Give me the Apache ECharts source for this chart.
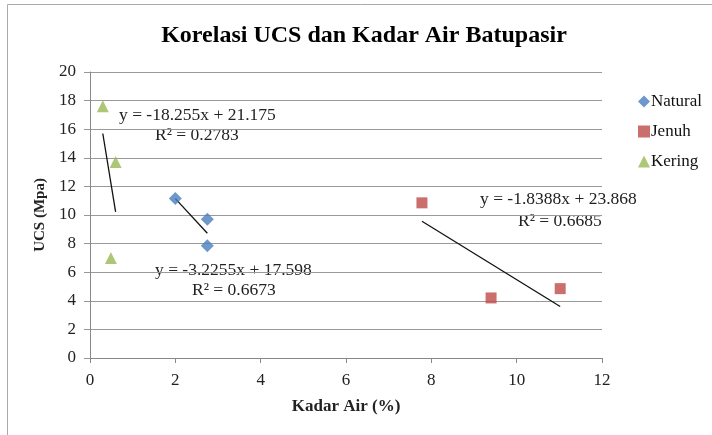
<!DOCTYPE html>
<html><head><meta charset="utf-8">
<script src="https://cdn.jsdelivr.net/npm/echarts@6/dist/echarts.min.js"></script>
<style>html,body{margin:0;padding:0;background:#fff}#c{width:712px;height:435px}</style>
</head><body><div id="c"></div>
<script>
var naturalX = [2.0, 2.75, 2.75];
var naturalY = [11.15, 9.7, 7.85];
var jenuhX = [7.78, 9.4, 11.02];
var jenuhY = [10.85, 4.2, 4.85];
var keringX = [0.3, 0.6, 0.49];
var keringY = [17.6, 13.7, 7.0];
// trendline coefficients (slope, intercept) as printed in the chart
var natTrend = [-3.2255, 17.598];
var jenTrend = [-1.8388, 23.868];
var kerTrend = [-18.255, 21.175];
var natLabel = ['y = -3.2255x + 17.598', 'R² = 0.6673'];
var jenLabel = ['y = -1.8388x + 23.868', 'R² = 0.6685'];
var kerLabel = ['y = -18.255x + 21.175', 'R² = 0.2783'];

function pts(xs, ys){ return xs.map(function(x,i){return [x, ys[i]];}); }
function trend(xs, c){
  var lo = Math.min.apply(null, xs), hi = Math.max.apply(null, xs);
  return [[lo, c[0]*lo + c[1]], [hi, c[0]*hi + c[1]]];
}
var serif = '"Liberation Serif", "Times New Roman", serif';
var blue = '#4a7ebb', red = '#be4b48', green = '#98b954';

var chart = echarts.init(document.getElementById('c'));
function lineSeries(xs, c){
  return {type:'line', data: trend(xs, c), symbol:'none', silent:true,
    lineStyle:{color:'#111', width:1.3}, z:1};
}
function txt(x, y, s){
  return {type:'text', x: x, y: y, style:{text:s, font:'17.5px ' + serif, fill:'#222', textAlign:'left', textVerticalAlign:'middle'}};
}
chart.setOption({
  animation:false,
  backgroundColor:'#fff',
  title:{text:'Korelasi UCS dan Kadar Air Batupasir', left: 359, top: 19, textAlign:'center',
    textStyle:{fontFamily: serif, fontSize: 24, fontWeight:'bold', color:'#000'}},
  grid:{left:90, right:110, top:72, bottom:77},
  legend:{orient:'vertical', left:633, top:88, itemGap:13, itemWidth:12, itemHeight:12,
    data:[{name:'Natural', icon:'diamond'},{name:'Jenuh', icon:'rect'},{name:'Kering', icon:'triangle'}],
    textStyle:{fontFamily: serif, fontSize:17, color:'#111', padding:[0,0,0,-4]}},
  xAxis:{type:'value', min:0, max:12, interval:2, name:'Kadar Air (%)', nameLocation:'middle', nameGap:40,
    nameTextStyle:{fontFamily: serif, fontSize:17, fontWeight:'bold', color:'#222'},
    axisLine:{lineStyle:{color:'#888'}}, axisTick:{show:true, length:5, lineStyle:{color:'#888'}},
    axisLabel:{fontFamily: serif, fontSize:17, color:'#222', margin:14},
    splitLine:{show:false}},
  yAxis:{type:'value', min:0, max:20, interval:2, name:'UCS (Mpa)', nameLocation:'middle', nameGap:41,
    nameTextStyle:{fontFamily: serif, fontSize:15, fontWeight:'bold', color:'#222'},
    axisLine:{show:true, lineStyle:{color:'#888'}}, axisTick:{show:true, length:6, lineStyle:{color:'#999'}},
    axisLabel:{fontFamily: serif, fontSize:17, color:'#222', margin:14},
    splitLine:{lineStyle:{color:'#999', width:1}}},
  graphic:[
    {type:'rect', shape:{x:7.5, y:4.5, width:720, height:440}, style:{fill:'none', stroke:'#aaa', lineWidth:1}, silent:true},
    txt(119, 115, kerLabel[0]), txt(155, 135, kerLabel[1]),
    txt(155, 270, natLabel[0]), txt(192, 290, natLabel[1]),
    txt(480, 199, jenLabel[0]), txt(518, 221, jenLabel[1])
  ],
  series:[
    {name:'Natural', type:'scatter', data: pts(naturalX, naturalY), symbol:'diamond', symbolSize:13, itemStyle:{color:blue}, z:3},
    {name:'Jenuh', type:'scatter', data: pts(jenuhX, jenuhY), symbol:'rect', symbolSize:11, itemStyle:{color:red}, z:3},
    {name:'Kering', type:'scatter', data: pts(keringX, keringY), symbol:'triangle', symbolSize:12, itemStyle:{color:green}, z:3},
    lineSeries(naturalX, natTrend),
    lineSeries(jenuhX, jenTrend),
    lineSeries(keringX, kerTrend)
  ]
});
</script></body></html>
